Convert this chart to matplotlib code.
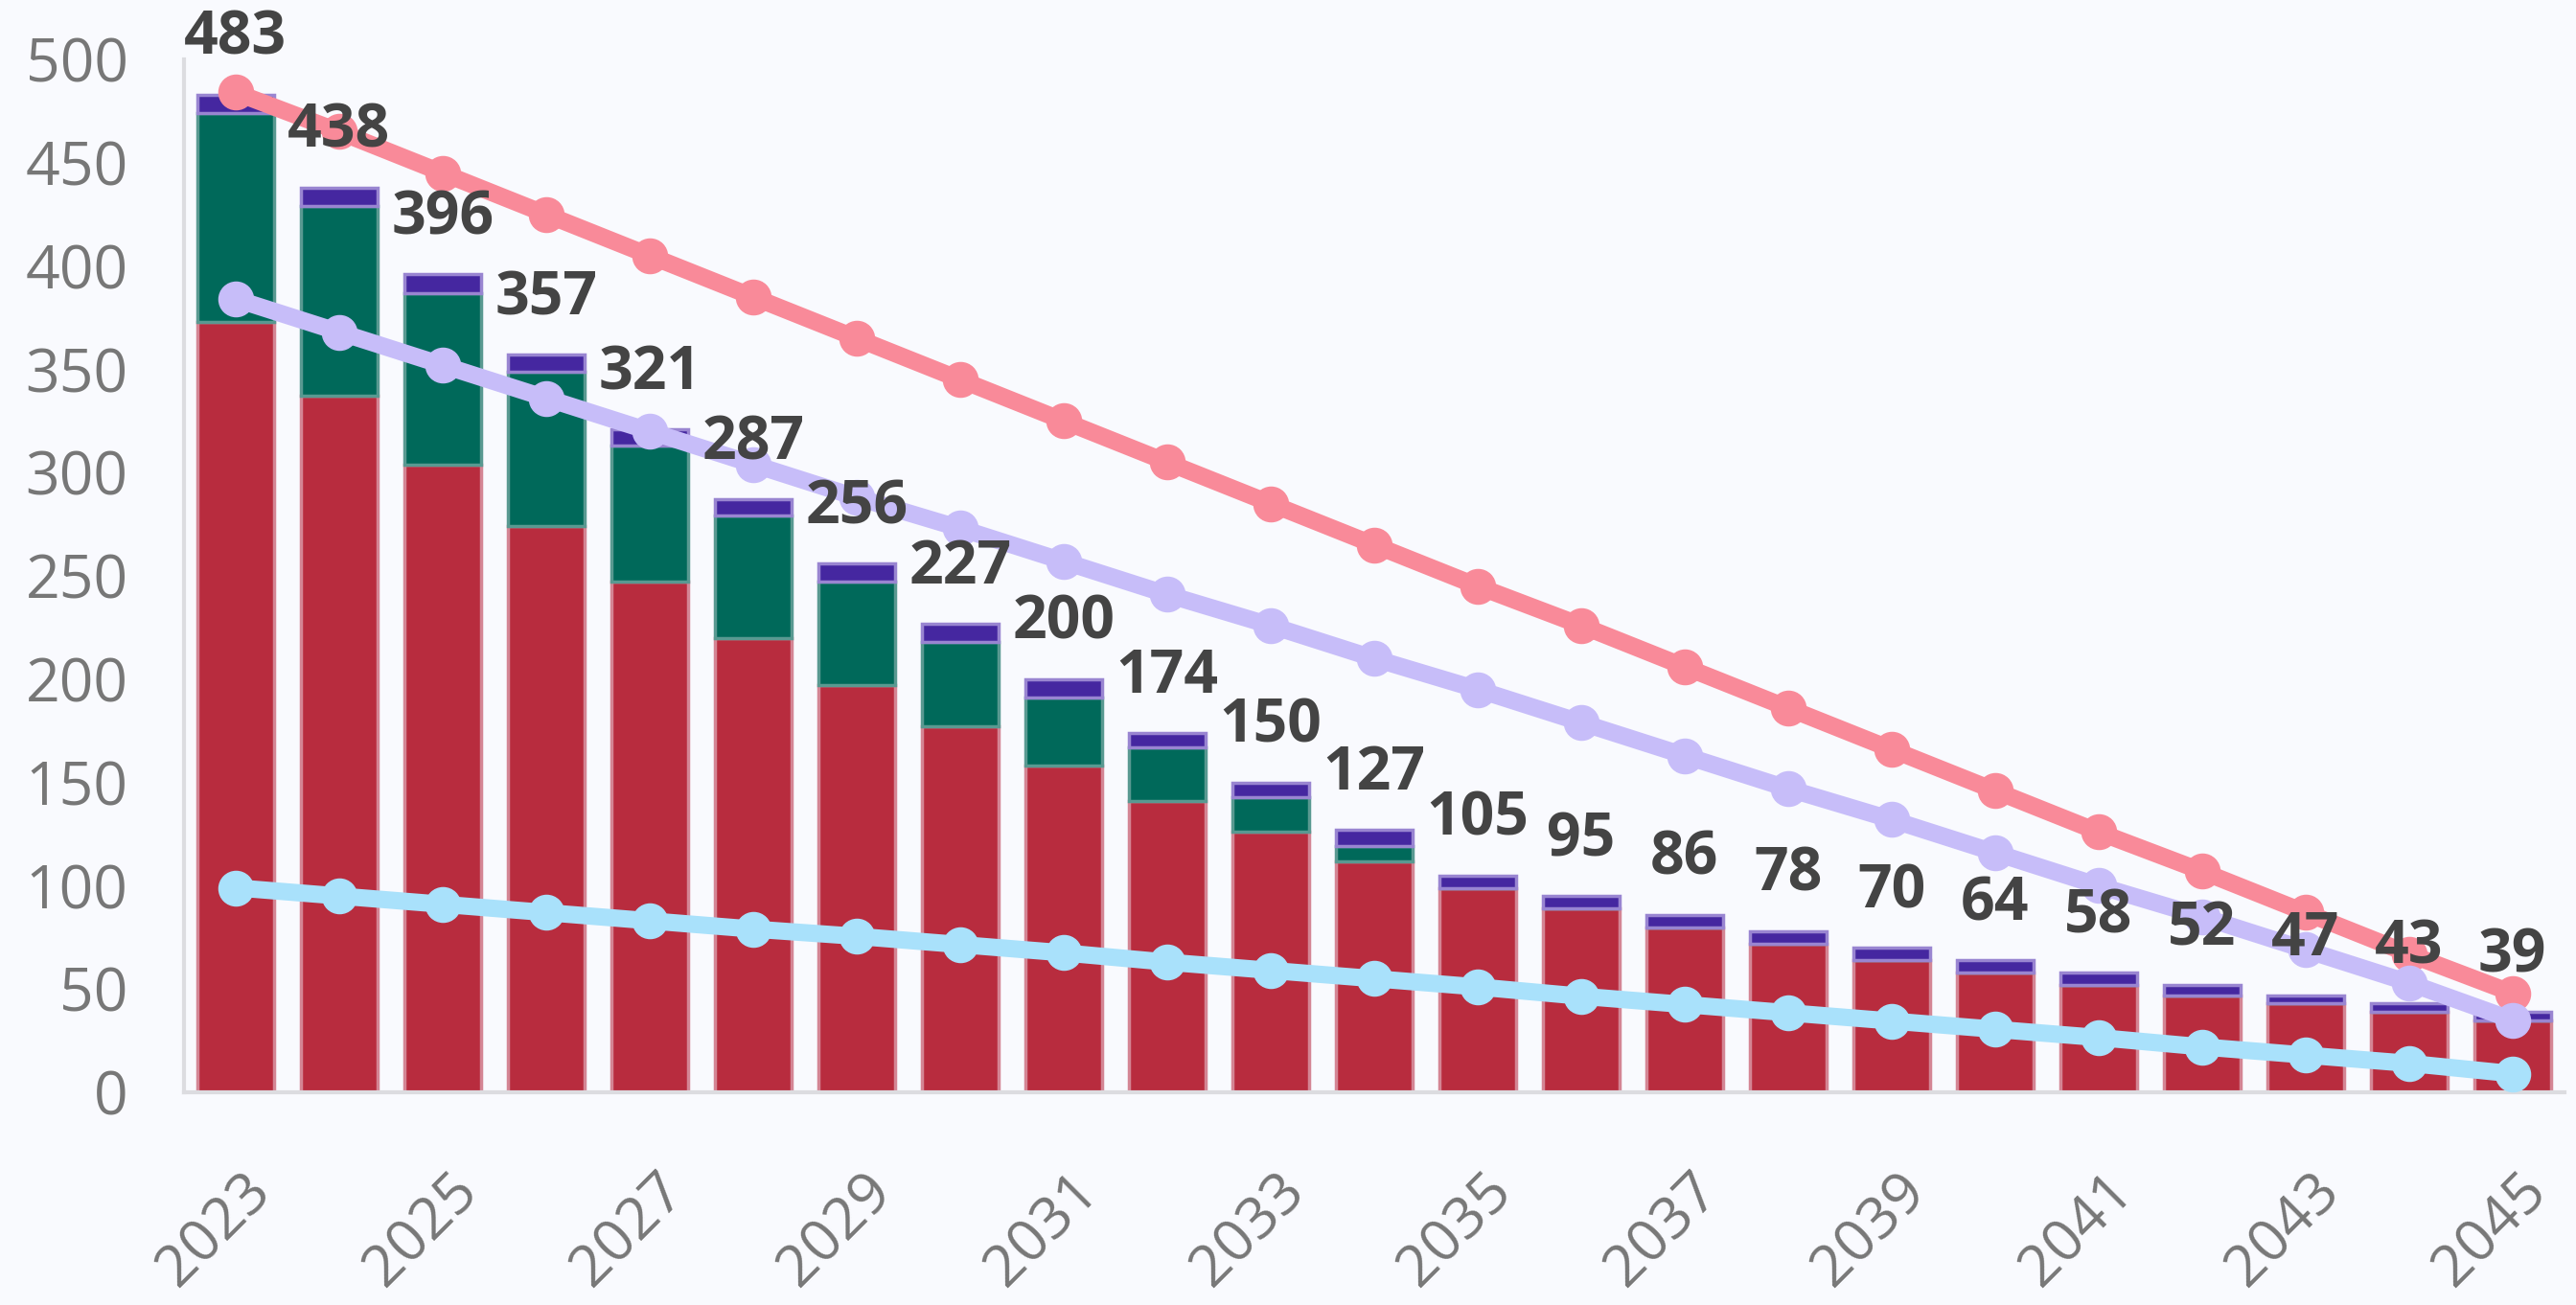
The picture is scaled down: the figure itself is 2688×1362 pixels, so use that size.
import numpy as np
import matplotlib
matplotlib.use("Agg")
import matplotlib.pyplot as plt
import matplotlib.transforms as mtransforms

# 数据
years = list(range(2023, 2046))
red = [373, 337, 304, 274, 247, 220, 197, 177, 158, 141, 126, 112, 99, 89, 80, 72, 64, 58, 52, 47, 43, 39, 35]
green = [101, 92, 83, 75, 66, 59, 50, 41, 33, 26, 17, 7, 0, 0, 0, 0, 0, 0, 0, 0, 0, 0, 0]
purple = [9, 9, 9, 8, 8, 8, 9, 9, 9, 7, 7, 8, 6, 6, 6, 6, 6, 6, 6, 5, 4, 4, 4]
totals = [483, 438, 396, 357, 321, 287, 256, 227, 200, 174, 150, 127, 105, 95, 86, 78, 70, 64, 58, 52, 47, 43, 39]
line_pink = [484, 465, 445, 425, 405, 385, 365, 345, 325, 305, 285, 265, 245, 226, 206, 186, 166, 146, 126, 107, 87, 67, 48]
line_lavender = [384, 368, 352, 336, 320, 304, 288, 273, 257, 241, 226, 210, 195, 179, 163, 147, 132, 116, 100, 85, 69, 53, 35]
line_blue = [99, 95, 91, 87, 83, 79, 75.5, 71.5, 67.5, 63, 59, 55, 51, 46.5, 42.5, 38.5, 34.5, 30.5, 26.5, 22, 18, 14, 9]

plt.rcParams['font.family'] = ['Open Sans', 'DejaVu Sans']

bg = "#F9FAFE"
fig = plt.figure(figsize=(26.88, 13.62), dpi=100, facecolor=bg)
ax = fig.add_axes([0.0714, 0.163, 0.924, 0.7915], facecolor=bg)

x = np.arange(len(years))
w = 0.74
red = np.array(red)
green = np.array(green)
purple = np.array(purple)

# 堆叠柱状图
ax.bar(x, red, w, color="#B82C3E", edgecolor=(0.83, 0.52, 0.58), linewidth=2.5, zorder=2)
ax.bar(x, green, w, bottom=red, color="#00695A", edgecolor=(0.35, 0.6, 0.57), linewidth=2.5, zorder=2)
ax.bar(x, purple, w, bottom=red + green, color="#4527A0", edgecolor=(0.6, 0.52, 0.82), linewidth=2.5, zorder=2)

# 折线
ax.plot(x, line_pink, color="#F98A99", lw=13, marker="o", ms=26, zorder=3)
ax.plot(x, line_lavender, color="#C7BDF9", lw=13, marker="o", ms=26, zorder=3)
ax.plot(x, line_blue, color="#A9E1FB", lw=13, marker="o", ms=26, zorder=3)

# 总数标签
for i, t in enumerate(totals):
    ax.annotate(str(t), (x[i], t), xytext=(0, 42), textcoords="offset points",
                ha="center", va="center", fontsize=45, fontweight="bold",
                color="#444444", zorder=5, annotation_clip=False)

ax.set_xlim(-0.5, len(years) - 0.5)
ax.set_ylim(0, 500)
ax.set_yticks(range(0, 501, 50))
ax.set_xticks(x[::2])
ax.set_xticklabels([str(y) for y in years[::2]], rotation=45, ha="right",
                   va="center", rotation_mode="anchor")
ax.tick_params(axis="y", length=0, pad=42, labelsize=45, labelcolor="#777777")
ax.tick_params(axis="x", length=0, pad=68, labelsize=44, labelcolor="#777777")

offset = mtransforms.ScaledTranslation(0.27, 0, fig.dpi_scale_trans)
for lbl in ax.get_xticklabels():
    lbl.set_transform(lbl.get_transform() + offset)

for s in ["top", "right"]:
    ax.spines[s].set_visible(False)
ax.spines["left"].set_color("#DCDCE0")
ax.spines["left"].set_linewidth(3)
ax.spines["bottom"].set_color("#DCDCE0")
ax.spines["bottom"].set_linewidth(3)

fig.savefig("out.png", dpi=100, facecolor=bg)
